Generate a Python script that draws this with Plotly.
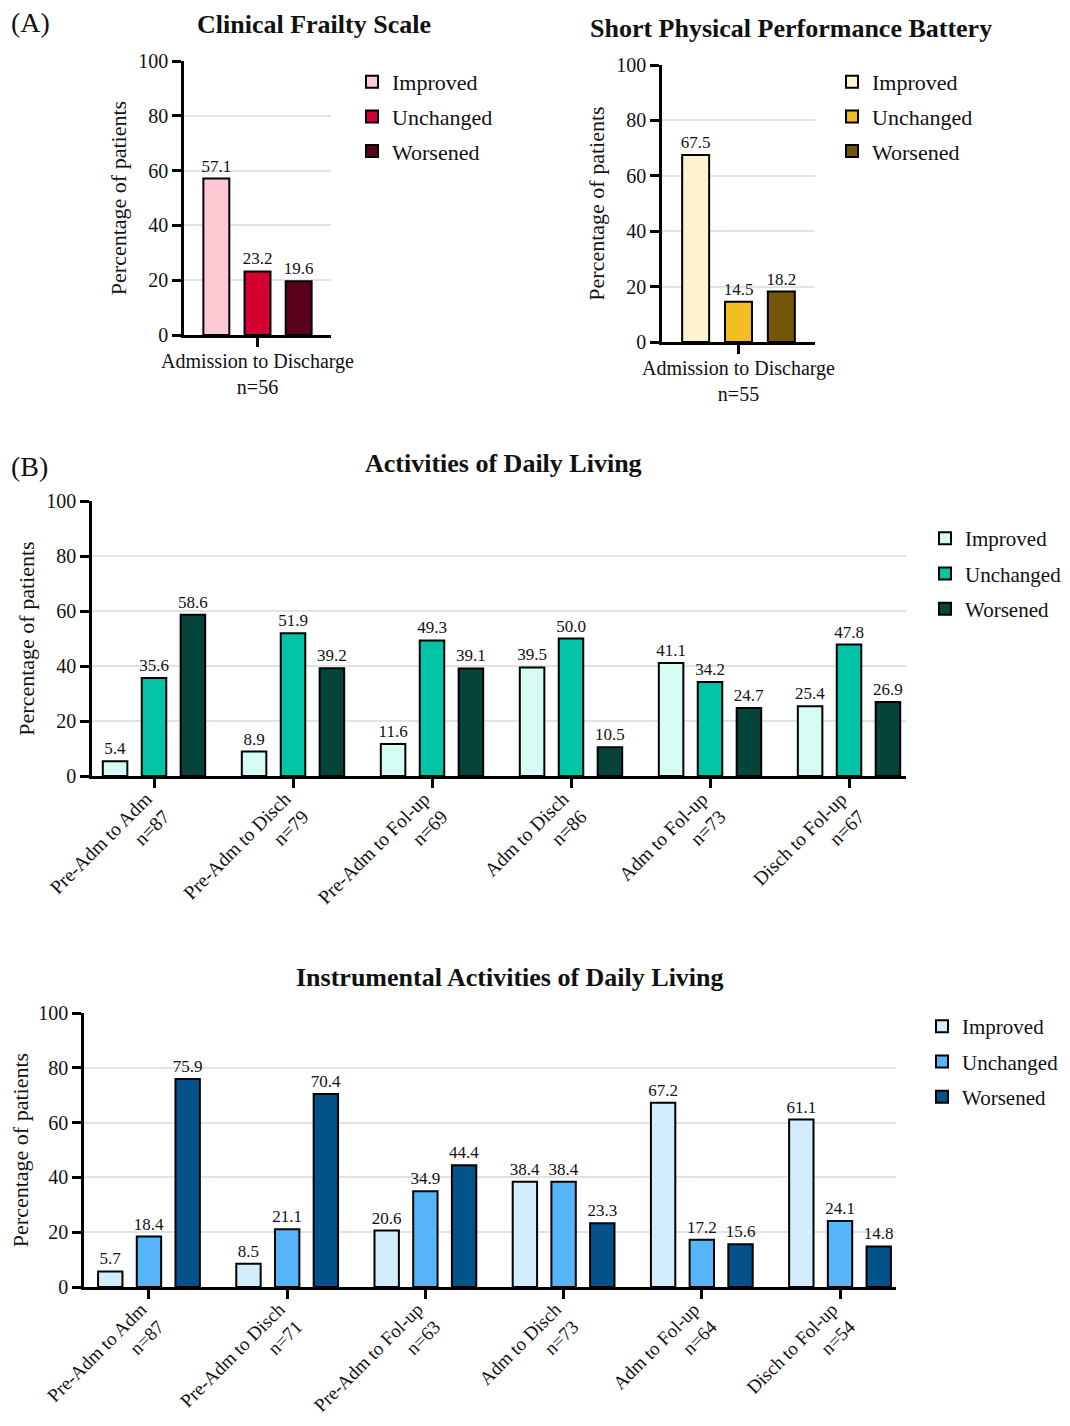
import plotly.graph_objects as go

# the page body has an 8px default margin; the figure fills the rest of the 1070x1426 window
PAGE_W, PAGE_H = 1070, 1426
OFF = 8
W, H = PAGE_W - OFF, PAGE_H - 2 * OFF

status = ["Improved", "Unchanged", "Worsened"]

cfs_cat = ["Admission to Discharge<br>n=56"]
cfs_improved = [57.1]
cfs_unchanged = [23.2]
cfs_worsened = [19.6]

sppb_cat = ["Admission to Discharge<br>n=55"]
sppb_improved = [67.5]
sppb_unchanged = [14.5]
sppb_worsened = [18.2]

adl_cat = ["Pre-Adm to Adm<br>n=87", "Pre-Adm to Disch<br>n=79", "Pre-Adm to Fol-up<br>n=69",
           "Adm to Disch<br>n=86", "Adm to Fol-up<br>n=73", "Disch to Fol-up<br>n=67"]
adl_improved = [5.4, 8.9, 11.6, 39.5, 41.1, 25.4]
adl_unchanged = [35.6, 51.9, 49.3, 50.0, 34.2, 47.8]
adl_worsened = [58.6, 39.2, 39.1, 10.5, 24.7, 26.9]

iadl_cat = ["Pre-Adm to Adm<br>n=87", "Pre-Adm to Disch<br>n=71", "Pre-Adm to Fol-up<br>n=63",
            "Adm to Disch<br>n=73", "Adm to Fol-up<br>n=64", "Disch to Fol-up<br>n=54"]
iadl_improved = [5.7, 8.5, 20.6, 38.4, 67.2, 61.1]
iadl_unchanged = [18.4, 21.1, 34.9, 38.4, 17.2, 24.1]
iadl_worsened = [75.9, 70.4, 44.4, 23.3, 15.6, 14.8]

cfs_colors = ["#FFC9D4", "#D50032", "#5A0018"]
sppb_colors = ["#FFF3CF", "#F2BE22", "#74560B"]
adl_colors = ["#D4FCF5", "#02C3A6", "#04443A"]
iadl_colors = ["#D3EDFC", "#56B5F8", "#04528A"]

FONT = "Liberation Serif, Times New Roman, serif"


def px(x):
    return (x - OFF) / W


def py(y):
    return 1 - (y - OFF) / H


fig = go.Figure()

panels = [
    # suffix, categories, series, colours, x domain (page px), y domain (page px top, bottom),
    # legend id, legend top-left (page px), legend font size, x range, tick font size
    ("", cfs_cat, [cfs_improved, cfs_unchanged, cfs_worsened], cfs_colors, (184, 331), (61, 335), "legend", (352, 61), 22, [-0.5, 0.5], 20),
    ("2", sppb_cat, [sppb_improved, sppb_unchanged, sppb_worsened], sppb_colors, (662, 815), (65, 342), "legend2", (832, 61), 22, [-0.5, 0.5], 20),
    ("3", adl_cat, [adl_improved, adl_unchanged, adl_worsened], adl_colors, (92, 906), (501, 776), "legend3", (925, 518), 21, [-0.446, 5.41], 19.5),
    ("4", iadl_cat, [iadl_improved, iadl_unchanged, iadl_worsened], iadl_colors, (84, 896), (1013, 1287), "legend4", (922, 1006), 21, [-0.47, 5.405], 19),
]

layout_axes = {}
legends = {}
for suf, cats, series, colors, xd, yd, lg, lpos, lfs, xr, tfs in panels:
    for i, (name, vals) in enumerate(zip(status, series)):
        fig.add_trace(go.Bar(
            x=cats, y=vals, name=name,
            marker=dict(color=colors[i], line=dict(color="black", width=2)),
            texttemplate="%{y:.1f}", textposition="outside", constraintext="none",
            textfont=dict(family=FONT, size=17, color="#111"),
            cliponaxis=False,
            xaxis="x" + suf, yaxis="y" + suf,
            legend=lg, legendgroup=lg + name,
        ))
    rot = len(cats) > 1
    xa = dict(
        domain=[px(xd[0]), px(xd[1])], anchor="y" + suf, range=xr,
        showline=True, linecolor="black", linewidth=2.5,
        ticks="outside", ticklen=9, tickwidth=2.5, tickcolor="black",
        tickangle=-45 if rot else 0,
        tickfont=dict(family=FONT, size=tfs, color="#111"),
        showgrid=False, zeroline=False, fixedrange=True, automargin=False,
    )
    if rot:
        xa.update(ticklabelstandoff=-8, ticklabelshift=-8)
    else:
        xa.update(ticklabelstandoff=-3)
    layout_axes["xaxis" + suf] = xa
    layout_axes["yaxis" + suf] = dict(
        domain=[py(yd[1]), py(yd[0])], anchor="x" + suf, range=[0, 100],
        tickvals=[0, 20, 40, 60, 80, 100],
        showline=True, linecolor="black", linewidth=2.5,
        ticks="outside", ticklen=9, tickwidth=2.5, tickcolor="black",
        tickfont=dict(family=FONT, size=20, color="#111"),
        showgrid=True, gridcolor="#E3E3E3", gridwidth=1.5, zeroline=False, automargin=False,
        title=dict(text="Percentage of patients", font=dict(family=FONT, size=22, color="#111"), standoff=6),
    )
    legends[lg] = dict(
        x=px(lpos[0]), y=py(lpos[1]), xanchor="left", yanchor="top",
        font=dict(family=FONT, size=lfs, color="#111"),
        bgcolor="rgba(0,0,0,0)", tracegroupgap=3 if lfs == 22 else 5, itemwidth=30,
    )

annotations = [
    dict(text="(A)", x=px(9), y=py(22), xanchor="left", yanchor="middle", font=dict(size=28)),
    dict(text="<b>Clinical Frailty Scale</b>", x=px(314), y=py(24), xanchor="center", yanchor="middle", font=dict(size=26)),
    dict(text="<b>Short Physical Performance Battery</b>", x=px(791), y=py(28), xanchor="center", yanchor="middle", font=dict(size=26)),
    dict(text="(B)", x=px(9), y=py(466), xanchor="left", yanchor="middle", font=dict(size=28)),
    dict(text="<b>Activities of Daily Living</b>", x=px(503), y=py(463), xanchor="center", yanchor="middle", font=dict(size=26)),
    dict(text="<b>Instrumental Activities of Daily Living</b>", x=px(510), y=py(977), xanchor="center", yanchor="middle", font=dict(size=26)),
]
for a in annotations:
    a.update(xref="paper", yref="paper", showarrow=False)
    a["font"].update(family=FONT, color="#111")

fig.update_layout(
    template="none",
    width=W, height=H,
    margin=dict(l=0, r=0, t=0, b=0, autoexpand=False),
    paper_bgcolor="white", plot_bgcolor="white",
    barmode="group", bargap=0.16, bargroupgap=0.37,
    font=dict(family=FONT, color="#111"),
    annotations=annotations,
    **layout_axes,
    **legends,
)

fig.write_html("out.html")
